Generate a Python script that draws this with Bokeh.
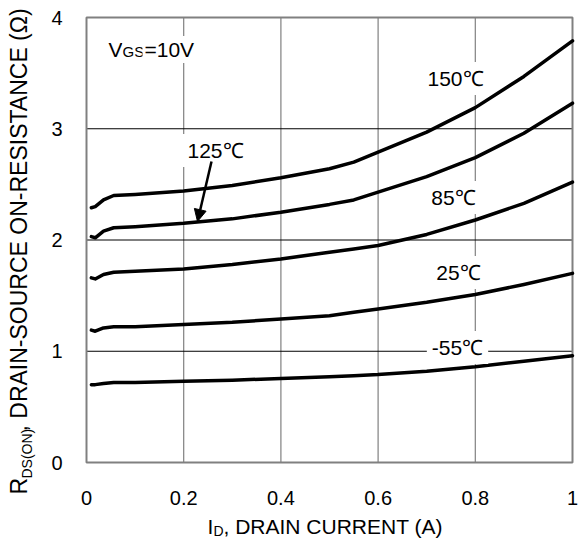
import math
from bokeh.plotting import figure
from bokeh.models import Range1d, Label, Arrow, NormalHead
from bokeh.embed import file_html
from bokeh.resources import INLINE

# ---- data ----
id_current = [0.01, 0.018, 0.035, 0.056, 0.1, 0.2, 0.3, 0.4, 0.5, 0.55, 0.6, 0.7, 0.8, 0.9, 1.0]
r_150 = [2.29, 2.30, 2.36, 2.40, 2.41, 2.44, 2.49, 2.56, 2.64, 2.70, 2.79, 2.97, 3.19, 3.47, 3.79]
r_125 = [2.03, 2.02, 2.08, 2.11, 2.12, 2.15, 2.19, 2.25, 2.32, 2.36, 2.43, 2.57, 2.74, 2.96, 3.23]
r_85 = [1.66, 1.65, 1.69, 1.71, 1.72, 1.74, 1.78, 1.83, 1.89, 1.92, 1.95, 2.05, 2.18, 2.33, 2.52]
r_25 = [1.19, 1.18, 1.21, 1.22, 1.22, 1.24, 1.26, 1.29, 1.32, 1.35, 1.38, 1.44, 1.51, 1.60, 1.70]
r_m55 = [0.70, 0.70, 0.71, 0.72, 0.72, 0.73, 0.74, 0.755, 0.77, 0.78, 0.79, 0.82, 0.86, 0.91, 0.96]

x_ticks = [0, 0.2, 0.4, 0.6, 0.8, 1.0]
x_tick_labels = ["0", "0.2", "0.4", "0.6", "0.8", "1"]
y_ticks = [0, 1, 2, 3, 4]
y_tick_labels = ["0", "1", "2", "3", "4"]

curve_labels = ["150\u2103", "125\u2103", "85\u2103", "25\u2103", "-55\u2103"]

FONT = "Liberation Sans"
W, H = 578, 542
FL, FR, FT, FB = 86, 572, 17, 462  # chart box edges in px
X0, X1 = 0.0, 1.0
Y0, Y1 = 0.0, 4.0


def sx(px):
    return X0 + (px - FL) / (FR - FL) * (X1 - X0)


def sy(py):
    return Y0 + (FB - py) / (FB - FT) * (Y1 - Y0)


# the plotting frame spans the whole canvas; the chart box is [0,1] x [0,4]
p = figure(width=W, height=H, output_backend="svg", toolbar_location=None,
           x_range=Range1d(sx(0), sx(W)), y_range=Range1d(sy(H), sy(0)),
           min_border_left=0, min_border_right=0, min_border_top=0, min_border_bottom=0)
p.background_fill_color = "white"
p.border_fill_color = "white"
p.outline_line_color = None
p.xaxis.visible = False
p.yaxis.visible = False
p.xgrid.visible = False
p.ygrid.visible = False

# grid lines inside the chart box
inner_x = [t for t in x_ticks if X0 < t < X1]
inner_y = [t for t in y_ticks if Y0 < t < Y1]
p.segment(x0=inner_x, y0=[Y0] * len(inner_x), x1=inner_x, y1=[Y1] * len(inner_x),
          line_color="#808080", line_width=1.2)
p.segment(x0=[X0] * len(inner_y), y0=inner_y, x1=[X1] * len(inner_y), y1=inner_y,
          line_color="black", line_width=1)

# chart box outline
p.quad(left=[X0], right=[X1], bottom=[Y0], top=[Y1], fill_color=None,
       line_color="#808080", line_width=2)

# tick labels
p.text(x=x_ticks, y=[sy(490)] * len(x_ticks), text=x_tick_labels, text_font={"value": FONT},
       text_font_size="20px", text_align="center", text_baseline="top", text_color="black")
p.text(x=[sx(62)] * len(y_ticks), y=y_ticks, text=y_tick_labels, text_font={"value": FONT},
       text_font_size="20px", text_align="right", text_baseline="middle", text_color="black")

# curves
for ys in (r_150, r_125, r_85, r_25, r_m55):
    p.line(id_current, ys, line_color="black", line_width=3.5, line_join="round", line_cap="round")

# curve labels (with white background)
label_pos = [(455, 78), (215, 150), (453, 197), (458, 272), (457, 347)]
for txt, (px, py) in zip(curve_labels, label_pos):
    p.add_layout(Label(x=sx(px), y=sy(py), text=txt, text_font=FONT, text_font_size="21px",
                       text_align="center", text_baseline="middle", text_color="black",
                       background_fill_color="white", padding=5))

# arrow for 125C
p.add_layout(Arrow(end=NormalHead(size=12, fill_color="black", line_color="black"),
                   x_start=sx(211), y_start=sy(161), x_end=sx(197), y_end=sy(221),
                   line_width=2.5, line_color="black"))


def lab(px, py, text, size, angle=0.0, **kw):
    p.add_layout(Label(x=sx(px), y=sy(py), text=text, text_font=FONT, text_font_size=size,
                       text_align="left", text_baseline="alphabetic", text_color="black",
                       angle=angle, **kw))


# V_GS = 10V
lab(108, 49, "V", "21px", background_fill_color="white")
lab(122, 51, "GS", "15px", background_fill_color="white")
lab(142, 49, "=10V", "21px", background_fill_color="white", padding=2)

# x axis label: I_D, DRAIN CURRENT (A)
lab(207, 526, "I", "21px")
lab(213, 530, "D", "14px")
lab(223, 526, ", DRAIN CURRENT (A)", "21px")

# y axis label: R_DS(ON), DRAIN-SOURCE ON-RESISTANCE (Ω)
lab(18, 494, "R", "23px", angle=math.pi / 2)
lab(26, 478, "DS(ON)", "14px", angle=math.pi / 2)
lab(18, 431, ", DRAIN-SOURCE ON-RESISTANCE (\u03a9)", "23px", angle=math.pi / 2)

open("out.html", "w").write(file_html(p, INLINE))
